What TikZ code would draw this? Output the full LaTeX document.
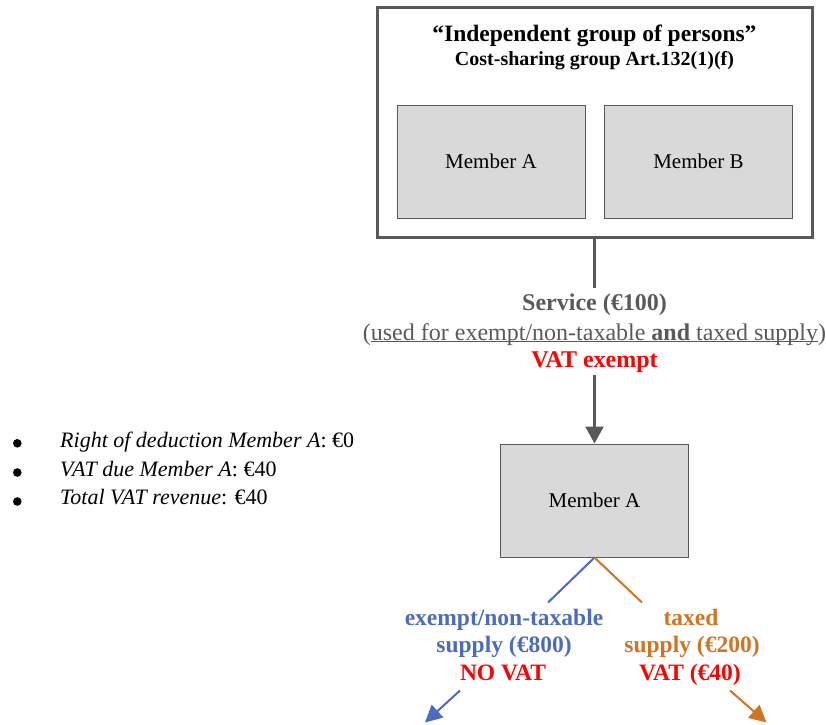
\documentclass[tikz,border=0pt]{standalone}
\usepackage{fontspec}
\setmainfont{Liberation Serif}
\usetikzlibrary{arrows.meta}

\definecolor{boxgray}{HTML}{595959}
\definecolor{fillgray}{HTML}{D9D9D9}
\definecolor{exblue}{HTML}{4A6BBE}
\definecolor{taxorange}{HTML}{D0741F}
\definecolor{vatred}{HTML}{FF0000}

% underline that sits just below the baseline and runs through descenders
\newcommand\lowrule[1]{\setbox0\hbox{#1}\rlap{\rule[-2.4pt]{\wd0}{1.1pt}}\box0}

\tikzset{
  member/.style={draw=boxgray, line width=1pt, fill=fillgray,
    minimum width=188pt, minimum height=113pt, inner sep=0pt,
    font=\fontsize{21}{25}\selectfont},
  txt/.style={inner sep=0pt, anchor=base},
  bigfont/.style={font=\fontsize{24}{29}\selectfont},
  labelfont/.style={font=\fontsize{23.5}{28}\selectfont\bfseries},
  listfont/.style={font=\fontsize{22}{26}\selectfont},
  bulletdot/.style={circle, fill=black, inner sep=0pt, minimum size=8.6pt},
  flow/.style={draw=boxgray, line width=2.5pt},
}

\begin{document}
\begin{tikzpicture}[x=1pt,y=-1pt]
\useasboundingbox (0,0) rectangle (826,724);

% cost-sharing group with its two members
\node[draw=boxgray, line width=3pt, minimum width=435pt, minimum height=230pt,
      inner sep=0pt] (group) at (594.5,122) {};
\node[txt, font=\fontsize{23.5}{28}\selectfont\bfseries] (title) at (594.5,41.5)
  {“Independent group of persons”};
\node[txt, font=\fontsize{20}{24}\selectfont\bfseries] (subtitle) at (594.5,65.5)
  {Cost-sharing group Art.132(1)(f)};
\node[member] (memA) at (491,161.5) {Member A};
\node[member] (memB) at (698.5,161.5) {Member B};

% the service supplied by the group
\node[txt, bigfont, text=boxgray, inner ysep=6pt] (svc) at (594.5,310.5)
  {\textbf{Service (€100)}};
\node[txt, bigfont, text=boxgray] (use) at (594.5,340)
  {(\lowrule{used for exempt/non-taxable \textbf{and} taxed supply})};
\node[txt, bigfont, text=vatred, inner ysep=2pt] (exempt) at (594.5,367.5)
  {\textbf{VAT exempt}};

\node[member] (memA2) at (594.5,500.5) {Member A};

\draw[flow] (group.south) -- (svc.north);
\draw[flow, -{Triangle[length=17pt,width=18pt]}] (exempt.south) -- (memA2.north);

% outgoing supplies of Member A
\coordinate (blueend) at (548,602.5);
\coordinate (orangeend) at (642,602.5);
\coordinate (bluefrom) at (460,690.5);
\coordinate (blueto) at (425,722.5);
\coordinate (orangefrom) at (730,690.5);
\coordinate (orangeto) at (766.5,722.5);

\draw[exblue, line width=2pt] (memA2.south) -- (blueend);
\draw[taxorange, line width=2pt] (memA2.south) -- (orangeend);

\node[txt, labelfont, text=exblue] (ex1) at (504,625) {exempt/non-taxable};
\node[txt, labelfont, text=exblue] (ex2) at (504,652.5) {supply (€800)};
\node[txt, labelfont, text=vatred] (ex3) at (503,680) {NO VAT};

\node[txt, labelfont, text=taxorange] (tx1) at (691,625) {taxed};
\node[txt, labelfont, text=taxorange] (tx2) at (692,652.5) {supply (€200)};
\node[txt, labelfont, text=vatred] (tx3) at (690,680) {VAT (€40)};

\draw[exblue, line width=2pt, -{Triangle[length=17pt,width=17pt]}] (bluefrom) -- (blueto);
\draw[taxorange, line width=2pt, -{Triangle[length=17pt,width=17pt]}] (orangefrom) -- (orangeto);

% summary list
\node[bulletdot] (dot1) at (17.3,443.3) {};
\node[bulletdot] (dot2) at (17.3,472.5) {};
\node[bulletdot] (dot3) at (17.3,501.5) {};
\node[txt, listfont, anchor=base west] (item1) at (60,447.3)
  {\textit{Right of deduction Member A}: €0};
\node[txt, listfont, anchor=base west] (item2) at (60,476)
  {\textit{VAT due Member A}: €40};
\node[txt, listfont, anchor=base west] (item3) at (60,504.3)
  {\textit{Total VAT revenue}: €40};
\end{tikzpicture}
\end{document}
